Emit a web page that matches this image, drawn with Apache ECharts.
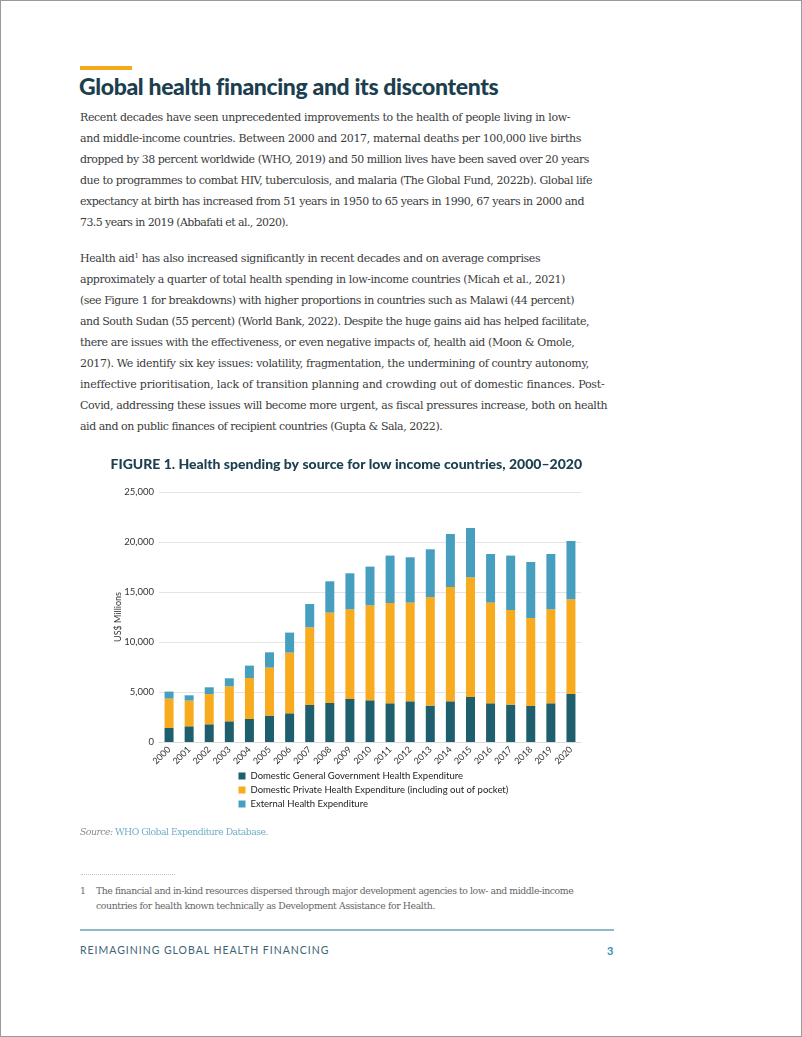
<!DOCTYPE html>
<html>
<head>
<meta charset="utf-8">
<script src="https://cdn.jsdelivr.net/npm/echarts@6/dist/echarts.min.js"></script>
<style>
  html, body { margin: 0; padding: 0; background: #fff; }
  #page { position: relative; width: 802px; height: 1037px; box-sizing: border-box; border: 1px solid #9a9a9a; overflow: hidden; }
  .abs { position: absolute; white-space: nowrap; }
  .body { font-family: "DejaVu Serif", serif; font-size: 11px; color: #3b3b3b; left: 79px; }
  sup { font-size: 7px; vertical-align: 4px; line-height: 0; }
</style>
</head>
<body>
<div id="page">
  <div class="abs" style="left:79px; top:65px; width:52px; height:4px; background:#f5a81c;"></div>
  <div class="abs" style="left:78px; top:71px; font-family:Lato, sans-serif; font-weight:900; font-size:23px; color:#1c3f50; letter-spacing:-0.36px;">Global health financing and its discontents</div>
  <div id="text"></div>
  <div id="chart" class="abs" style="left:80px; top:440px; width:530px; height:390px;"></div>
  <div class="abs fit" data-end="267" style="left:79px; top:825px; font-family:'DejaVu Serif', serif; font-size:9.3px; color:#8a8a8a;"><i>Source:</i> <span style="color:#72aec6;">WHO Global Expenditure Database.</span></div>
  <div class="abs" style="left:80px; top:873px; width:94px; border-top:1px dotted #c4c4c4;"></div>
  <div class="abs" style="left:79px; top:884px; font-family:'DejaVu Serif', serif; font-size:9.3px; color:#666;">1</div>
  <div class="abs fit" data-end="572" style="left:95px; top:884px; font-family:'DejaVu Serif', serif; font-size:9.3px; color:#666;">The financial and in-kind resources dispersed through major development agencies to low- and middle-income</div>
  <div class="abs fit" data-end="434" style="left:95px; top:899px; font-family:'DejaVu Serif', serif; font-size:9.3px; color:#666;">countries for health known technically as Development Assistance for Health.</div>
  <div class="abs" style="left:79px; top:928px; width:534px; height:1.5px; background:#8db9c9;"></div>
  <div class="abs" style="left:79px; top:943px; font-family:Lato, sans-serif; font-size:10.5px; color:#3c6474; letter-spacing:0.98px;">REIMAGINING GLOBAL HEALTH FINANCING</div>
  <div class="abs" style="left:606px; top:943px; font-family:Lato, sans-serif; font-weight:700; font-size:11px; color:#3b8db0;">3</div>
</div>
<script>
const years = ['2000','2001','2002','2003','2004','2005','2006','2007','2008','2009','2010','2011','2012','2013','2014','2015','2016','2017','2018','2019','2020'];
const govt = [1400,1570,1770,2070,2300,2640,2870,3700,3900,4300,4170,3870,4070,3640,4070,4500,3870,3740,3600,3870,4800];
const privateExp = [2940,2570,3030,3500,4100,4800,6070,7770,9040,8970,9500,10030,9870,10860,11430,11970,10070,9460,8800,9400,9470];
const external = [700,530,670,800,1240,1530,2000,2330,3130,3600,3870,4740,4530,4770,5300,4930,4860,5440,5600,5530,5830];
const seriesNames = ['Domestic General Government Health Expenditure','Domestic Private Health Expenditure (including out of pocket)','External Health Expenditure'];
const yTicks = [0,5000,10000,15000,20000,25000];

const paraLines = [
  'Recent decades have seen unprecedented improvements to the health of people living in low-',
  'and middle-income countries. Between 2000 and 2017, maternal deaths per 100,000 live births',
  'dropped by 38 percent worldwide (WHO, 2019) and 50 million lives have been saved over 20 years',
  'due to programmes to combat HIV, tuberculosis, and malaria (The Global Fund, 2022b). Global life',
  'expectancy at birth has increased from 51 years in 1950 to 65 years in 1990, 67 years in 2000 and',
  '73.5 years in 2019 (Abbafati et al., 2020).',
  'Health aid<sup>1</sup> has also increased significantly in recent decades and on average comprises',
  'approximately a quarter of total health spending in low-income countries (Micah et al., 2021)',
  '(see Figure 1 for breakdowns) with higher proportions in countries such as Malawi (44 percent)',
  'and South Sudan (55 percent) (World Bank, 2022). Despite the huge gains aid has helped facilitate,',
  'there are issues with the effectiveness, or even negative impacts of, health aid (Moon &amp; Omole,',
  '2017). We identify six key issues: volatility, fragmentation, the undermining of country autonomy,',
  'ineffective prioritisation, lack of transition planning and crowding out of domestic finances. Post-',
  'Covid, addressing these issues will become more urgent, as fiscal pressures increase, both on health',
  'aid and on public finances of recipient countries (Gupta &amp; Sala, 2022).'
];
// layout: top of each line box and the x where each line ends in the reference
const lineTops = [110,131,152,173,194,215, 251,272,293,314,335,356,377,398,419];
const lineEnds = [569,580,588,591,583,287, 539,564,573,588,573,588,603,606,441];

const textDiv = document.getElementById('text');
paraLines.forEach((t, i) => {
  const d = document.createElement('div');
  d.className = 'abs body fit';
  d.style.top = lineTops[i] + 'px';
  d.dataset.end = lineEnds[i];
  d.innerHTML = t;
  textDiv.appendChild(d);
});
document.querySelectorAll('.fit').forEach(d => {
  const left = parseFloat(d.style.left || getComputedStyle(d).left);
  const target = parseFloat(d.dataset.end) - left;
  const w = d.getBoundingClientRect().width;
  const n = d.textContent.length;
  d.style.letterSpacing = ((target - w) / n).toFixed(3) + 'px';
});

const colors = ['#1f5e6c', '#f9ab1f', '#479fc0'];
const chart = echarts.init(document.getElementById('chart'));
chart.setOption({
  animation: false,
  color: colors,
  title: {
    text: 'FIGURE 1. Health spending by source for low income countries, 2000–2020',
    left: 29.5, top: 16, padding: 0,
    textStyle: { fontFamily: 'Lato', fontWeight: 900, fontSize: 14, color: '#1c4050' }
  },
  legend: {
    orient: 'vertical', left: 152.5, top: 325,
    icon: 'rect', itemWidth: 7, itemHeight: 7, itemGap: 4,
    textStyle: { fontFamily: 'Lato', fontSize: 9.5, color: '#222' },
    data: seriesNames
  },
  grid: { left: 78, right: 30, top: 51, bottom: 89 },
  xAxis: {
    type: 'category', data: years,
    axisLine: { show: true, lineStyle: { color: '#dcdcdc' } },
    axisTick: { show: false },
    axisLabel: { rotate: 45, fontFamily: 'Lato', fontSize: 9, color: '#333', margin: 6 }
  },
  yAxis: {
    type: 'value', min: 0, max: 25000, interval: 5000,
    name: 'US$ Millions', nameLocation: 'middle', nameGap: 36, nameRotate: 90,
    nameMoveOverlap: false,
    nameTextStyle: { fontFamily: 'Lato', fontSize: 9, color: '#333' },
    axisLabel: { fontFamily: 'Lato', fontSize: 9.5, color: '#333', margin: 5,
      formatter: v => yTicks.includes(v) ? v.toLocaleString('en-US') : '' },
    splitLine: { lineStyle: { color: '#e4e4e4' } }
  },
  series: [
    { name: seriesNames[0], type: 'bar', stack: 'a', barWidth: 9, data: govt },
    { name: seriesNames[1], type: 'bar', stack: 'a', barWidth: 9, data: privateExp },
    { name: seriesNames[2], type: 'bar', stack: 'a', barWidth: 9, data: external }
  ]
});
</script>
</body>
</html>
